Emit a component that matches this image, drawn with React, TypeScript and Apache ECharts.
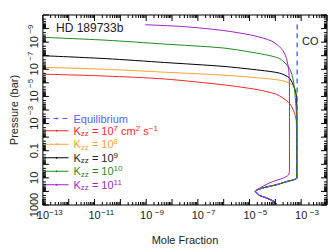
import React, { useEffect, useRef } from "react";
import * as echarts from "echarts";

const FONT = "'Liberation Sans', Arial, Helvetica, sans-serif";

// axis extents
const xMin = 1e-13;
const xMax = 1e-2;
const yMin = 1e-11;
const yMax = 1e3;

// labelled decades
const xLabelExps = [-13, -11, -9, -7, -5, -3];
const yLabelExps = [3, 1, -1, -3, -5, -7, -9, -11];
const yPlainLabels: Record<number, string> = { 3: "1000", 1: "10", [-1]: "0.1" };

const seriesNames = ["Equilibrium", "Kzz7", "Kzz8", "Kzz9", "Kzz10", "Kzz11"];
const kzzExps = [7, 8, 9, 10, 11];
const seriesColors = ["#4f63ff", "#ff2626", "#ffa033", "#000000", "#1f8a1f", "#a21fc8"];

// [mole fraction, pressure (bar)]
const equilibrium = [
  [7.0e-4, 5e-11], [7.0e-4, 10], [5.0e-4, 13.9], [2.7e-4, 19], [1.14e-4, 31.6],
  [3.7e-5, 52], [2.2e-5, 72], [1.68e-5, 100], [2.0e-5, 139], [2.4e-5, 193],
  [4.8e-5, 316], [9.6e-5, 611], [1.14e-4, 1000],
];
const kzz7 = [
  [1e-13, 2.28e-7], [2.84e-11, 3.16e-7], [5.2e-9, 5.2e-7], [9.6e-7, 1.39e-6],
  [2.0e-5, 3.16e-6], [1.14e-4, 7.2e-6], [3.23e-4, 2.7e-5], [5.0e-4, 1e-4],
  [6.5e-4, 7.2e-4], [6.8e-4, 10], [5.0e-4, 13.9], [2.7e-4, 19], [1.14e-4, 31.6],
  [3.7e-5, 52], [2.2e-5, 72], [1.68e-5, 100], [2.0e-5, 139], [2.4e-5, 193],
  [4.8e-5, 316], [9.6e-5, 611], [1.14e-4, 1000],
];
const kzz8 = [
  [1e-13, 7.2e-8], [2.84e-11, 1e-7], [5.2e-9, 1.64e-7], [9.6e-7, 2.7e-7],
  [2.6e-5, 4.4e-7], [2.09e-4, 7.2e-7], [5.0e-4, 1.64e-6], [6.5e-4, 5.2e-6],
  [6.8e-4, 1e-4], [6.8e-4, 10], [5.0e-4, 13.9], [2.7e-4, 19], [1.14e-4, 31.6],
  [3.7e-5, 52], [2.2e-5, 72], [1.68e-5, 100], [2.0e-5, 139], [2.4e-5, 193],
  [4.8e-5, 316], [9.6e-5, 611], [1.14e-4, 1000],
];
const kzz9 = [
  [1e-13, 1e-8], [2.84e-11, 1.64e-8], [5.2e-9, 3.16e-8], [9.6e-7, 6.1e-8],
  [2.6e-5, 1.18e-7], [1.48e-4, 1.93e-7], [3.52e-4, 4.4e-7], [5.4e-4, 2.28e-6],
  [6.6e-4, 1.18e-5], [6.8e-4, 1e-3], [6.8e-4, 10], [5.0e-4, 13.9], [2.7e-4, 19],
  [1.14e-4, 31.6], [3.7e-5, 52], [2.2e-5, 72], [1.68e-5, 100], [2.0e-5, 139],
  [2.4e-5, 193], [4.8e-5, 316], [9.6e-5, 611], [1.14e-4, 1000],
];
const kzz10 = [
  [1e-13, 4.4e-10], [2.84e-11, 7.2e-10], [5.2e-9, 1.39e-9], [9.6e-7, 2.7e-9],
  [2.6e-5, 7.2e-9], [1.48e-4, 1.64e-8], [3.52e-4, 8.5e-8], [5.0e-4, 7.2e-7],
  [5.9e-4, 1.18e-5], [6.8e-4, 1e-3], [6.8e-4, 10], [5.0e-4, 13.9], [2.7e-4, 19],
  [1.14e-4, 31.6], [3.7e-5, 52], [2.2e-5, 72], [1.68e-5, 100], [2.0e-5, 139],
  [2.4e-5, 193], [4.8e-5, 316], [9.6e-5, 611], [1.14e-4, 1000],
];
const kzz11 = [
  [9.1e-10, 5.2e-11], [2.96e-8, 7.2e-11], [9.6e-7, 1.39e-10], [1.3e-5, 3.16e-10],
  [7.4e-5, 8.5e-10], [1.76e-4, 3.16e-9], [2.49e-4, 1e-8], [3.23e-4, 8.5e-8],
  [3.52e-4, 2.28e-6], [3.52e-4, 2.68], [3.23e-4, 6.1], [2.09e-4, 10],
  [6.2e-5, 22.7], [2.0e-5, 72], [1.68e-5, 100], [2.0e-5, 139], [2.4e-5, 193],
  [4.8e-5, 316], [9.6e-5, 611], [1.14e-4, 1000],
];
const seriesData = [equilibrium, kzz7, kzz8, kzz9, kzz10, kzz11];

// log-axis tick marks (decades major, 2..9 minor)
function logTicks(lo: number, hi: number) {
  const out: number[][] = [];
  for (let e = lo; e <= hi; e++) {
    out.push([Math.pow(10, e), 1]);
    if (e < hi) for (let k = 2; k <= 9; k++) out.push([k * Math.pow(10, e), 0]);
  }
  return out;
}
const xTicks = logTicks(-13, -2).map((t) => [t[0], yMax, t[1]]);
const yTicks = logTicks(-11, 3).map((t) => [xMin, t[0], t[1]]);

const MINUS = "\u2212";
function powLabel(e: number) {
  const s = e < 0 ? MINUS + -e : String(e);
  return `{p| }{b|10}{s|${s}}`;
}

const rich = {
  b: { fontSize: 11, lineHeight: 14, fontFamily: FONT },
  s: { fontSize: 8, lineHeight: 8, verticalAlign: "top", fontFamily: FONT, width: 14, align: "left" },
  p: { width: 14, fontSize: 8, lineHeight: 8 },
};

const legendRich = {
  e: { fontSize: 11, lineHeight: 18.5, fontFamily: FONT },
  t: { fontSize: 11, lineHeight: 13.5, fontFamily: FONT },
  u: { fontSize: 8, lineHeight: 8, verticalAlign: "top", fontFamily: FONT },
  d: { fontSize: 8, lineHeight: 8, verticalAlign: "bottom", fontFamily: FONT },
};

function legendText(name: string) {
  const i = seriesNames.indexOf(name);
  if (i === 0) return "{e|Equilibrium}";
  const e = kzzExps[i - 1];
  let s = `{t|K}{d|zz}{t| = 10}{u|${e}}`;
  if (e === 7) s += `{t| cm}{u|2}{t| s}{u|${MINUS}1}`;
  return s;
}

export default function App() {
  const ref = useRef<HTMLDivElement>(null);
  useEffect(() => {
    if (!ref.current) return;
    const chart = echarts.init(ref.current, undefined, { renderer: "svg" });
    const lineSeries = seriesNames.map((name, i) => ({
      name,
      type: "line",
      data: seriesData[i],
      symbol: "none",
      smooth: 0.25,
      z: i === 0 ? 5 : 3 + i * 0.1,
      lineStyle: {
        color: seriesColors[i],
        width: i === 0 ? 1.4 : 1,
        type: i === 0 ? [5, 4] : "solid",
      },
      itemStyle: { color: seriesColors[i] },
    }));
    const tickRender = (vertical: boolean) => (params: any, api: any) => {
      const major = api.value(2) === 1;
      const len = major ? 6 : 3;
      if (vertical) {
        const v = api.value(0);
        const b = api.coord([v, yMax]);
        const t = api.coord([v, yMin]);
        return {
          type: "group",
          children: [
            { type: "line", shape: { x1: b[0], y1: b[1], x2: b[0], y2: b[1] - len }, style: { stroke: "#000", lineWidth: 1 } },
            { type: "line", shape: { x1: t[0], y1: t[1], x2: t[0], y2: t[1] + len }, style: { stroke: "#000", lineWidth: 1 } },
          ],
        };
      }
      const v = api.value(1);
      const l = api.coord([xMin, v]);
      const r = api.coord([xMax, v]);
      return {
        type: "group",
        children: [
          { type: "line", shape: { x1: l[0], y1: l[1], x2: l[0] + len, y2: l[1] }, style: { stroke: "#000", lineWidth: 1 } },
          { type: "line", shape: { x1: r[0], y1: r[1], x2: r[0] - len, y2: r[1] }, style: { stroke: "#000", lineWidth: 1 } },
        ],
      };
    };
    chart.setOption({
      animation: false,
      backgroundColor: "#fff",
      textStyle: { fontFamily: FONT },
      grid: { left: 35, right: 5, top: 15, bottom: 39, show: true, borderColor: "#000", borderWidth: 1, backgroundColor: "transparent" },
      xAxis: {
        type: "log",
        logBase: 10,
        min: xMin,
        max: xMax,
        interval: 2,
        axisLine: { show: false },
        axisTick: { show: false },
        splitLine: { show: false },
        axisLabel: {
          margin: 3,
          color: "#222",
          rich,
          formatter: (v: number) => {
            const e = Math.round(Math.log10(v));
            return xLabelExps.includes(e) ? powLabel(e) : "";
          },
        },
        name: "Mole Fraction",
        nameLocation: "middle",
        nameGap: 29,
        nameTextStyle: { fontSize: 11, color: "#222", fontFamily: FONT },
      },
      yAxis: {
        type: "log",
        logBase: 10,
        inverse: true,
        min: yMin,
        max: yMax,
        interval: 2,
        axisLine: { show: false },
        axisTick: { show: false },
        splitLine: { show: false },
        axisLabel: {
          margin: 2,
          rotate: 90,
          color: "#222",
          rich,
          formatter: (v: number) => {
            const e = Math.round(Math.log10(v));
            if (!yLabelExps.includes(e)) return "";
            if (yPlainLabels[e]) return `{b|${yPlainLabels[e]}}`;
            return powLabel(e);
          },
        },
        name: "Pressure (bar)",
        nameLocation: "middle",
        nameGap: 23,
        nameTextStyle: { fontSize: 11, color: "#222", fontFamily: FONT },
      },
      legend: {
        orient: "vertical",
        left: 44,
        top: 113,
        itemWidth: 24,
        itemHeight: 2,
        itemGap: 0,
        padding: 0,
        lineStyle: { width: 1 },
        data: seriesNames.map((name, i) => ({
          name,
          textStyle: { color: seriesColors[i] === "#000000" ? "#222" : seriesColors[i] },
        })),
        textStyle: { fontSize: 11, fontFamily: FONT, rich: legendRich },
        formatter: legendText,
      },
      graphic: [
        { type: "text", left: 56, top: 22, style: { text: "HD 189733b", fontSize: 12, fontFamily: FONT, fill: "#222" } },
        { type: "text", left: 302, top: 35, style: { text: "CO", fontSize: 11, fontFamily: FONT, fill: "#222" } },
      ],
      series: [
        ...lineSeries,
        { type: "custom", data: xTicks, encode: { x: 0, y: 1 }, renderItem: tickRender(true), silent: true, z: 10 },
        { type: "custom", data: yTicks, encode: { x: 0, y: 1 }, renderItem: tickRender(false), silent: true, z: 10 },
      ],
    });
    return () => chart.dispose();
  }, []);
  return <div ref={ref} style={{ position: "fixed", left: 0, top: 0, width: 332, height: 250 }} />;
}
